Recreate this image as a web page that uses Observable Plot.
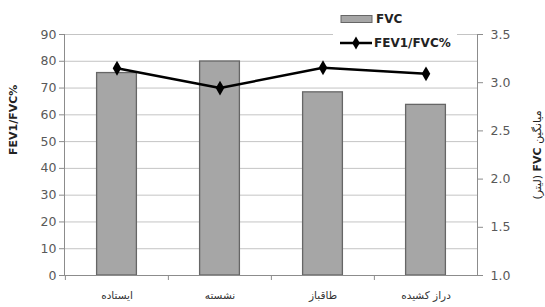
<!DOCTYPE html>
<html><head><meta charset="utf-8">
<script src="https://cdn.jsdelivr.net/npm/d3@7"></script>
<script src="https://cdn.jsdelivr.net/npm/@observablehq/plot@0.6"></script>
<style>
body{margin:0;background:#fff;}
#wrap{position:relative;width:545px;height:307px;font-family:"DejaVu Sans",sans-serif;}
#legend{position:absolute;left:333px;top:0;width:124px;height:54px;background:#fff;}
#rtitle{position:absolute;left:537px;top:155px;transform:translate(-50%,-50%) rotate(-90deg);white-space:nowrap;font-size:11px;color:#222;}
</style>
</head><body>
<div id="wrap"><div id="chart"></div><div id="legend"></div><div id="rtitle"></div></div>
<script>
const categories = ["ایستاده", "نشسته", "طاقباز", "دراز کشیده"];
const fvc = [3.10, 3.22, 2.90, 2.77];          // right axis, litres
const ratio = [77.4, 70.0, 77.6, 75.3];       // left axis, %
const leftTicks = [0,10,20,30,40,50,60,70,80,90];
const rightTicks = [1.0,1.5,2.0,2.5,3.0,3.5];
const leftTitle = "FEV1/FVC%";
const seriesNames = ["FVC", "FEV1/FVC%"];

const W = 545, H = 307, ml = 64, mr = 68, mt = 34, mb = 32;
const step = (W - ml - mr) / categories.length;
const toLeft = v => (v - 1) * 36; // right axis 1.0–3.5 onto left 0–90

const data = categories.map((c, i) => ({c, fvc: fvc[i], ratio: ratio[i]}));
const grey = "#595959";

const plot = Plot.plot({
  width: W, height: H,
  marginLeft: ml, marginRight: mr, marginTop: mt, marginBottom: mb,
  style: {fontFamily: "DejaVu Sans, sans-serif", background: "#fff"},
  x: {type: "band", domain: categories, padding: 0},
  y: {domain: [0, 90]},
  marks: [
    Plot.ruleY(leftTicks.filter(d => d > 0), {stroke: "#c4c4c4", strokeWidth: 1}),
    Plot.rectY(data, {x: "c", y1: 0, y2: d => toLeft(d.fvc), fill: "#a6a6a6", stroke: "#666", strokeWidth: 1.3, insetLeft: 31.6, insetRight: 31.6}),
    Plot.ruleY([0], {stroke: "#8c8c8c"}),
    Plot.frame({anchor: "left", stroke: "#8c8c8c"}),
    Plot.frame({anchor: "right", stroke: "#8c8c8c"}),
    Plot.ruleX(categories, {x: d => d, dx: -step / 2, y1: 0, y2: -5 / (241 / 90), stroke: "#8c8c8c"}),
    Plot.line(data, {x: "c", y: "ratio", stroke: "#000", strokeWidth: 2.5}),
    Plot.dot(data, {x: "c", y: "ratio", symbol: "diamond", r: 4.5, fill: "#000", stroke: "none"}),
    Plot.axisY({anchor: "left", ticks: leftTicks, tickSize: 5, tickPadding: 3, fontSize: 12.5, color: grey, stroke: "#8c8c8c", label: null}),
    Plot.axisY({anchor: "right", ticks: rightTicks.map(toLeft), tickFormat: y => (y / 36 + 1).toFixed(1), tickSize: 5, tickPadding: 8, fontSize: 12.5, color: grey, stroke: "#8c8c8c", label: null}),
    Plot.axisX({anchor: "bottom", tickSize: 0, tickPadding: 16, fontSize: 10.5, color: "#333", label: null}),
    Plot.text([leftTitle], {text: d => d, frameAnchor: "left", dx: -51, rotate: -90, fontWeight: "bold", fontSize: 11, fill: "#222"})
  ]
});
document.getElementById("chart").appendChild(plot);

// legend
const lg = d3.select("#legend").append("svg").attr("width", 124).attr("height", 54)
  .style("font-family", "DejaVu Sans, sans-serif");
lg.append("rect").attr("x", 8).attr("y", 15.5).attr("width", 31).attr("height", 7)
  .attr("fill", "#a6a6a6").attr("stroke", "#666");
lg.append("text").attr("x", 43).attr("y", 19).attr("dy", "0.35em").attr("font-size", 12)
  .attr("font-weight", "bold").attr("fill", "#222").text(seriesNames[0]);
lg.append("line").attr("x1", 7).attr("x2", 39).attr("y1", 43).attr("y2", 43)
  .attr("stroke", "#000").attr("stroke-width", 2.5);
lg.append("path").attr("d", d3.symbol(d3.symbolDiamond, 50)()).attr("transform", "translate(23,43)").attr("fill", "#000");
lg.append("text").attr("x", 41).attr("y", 43).attr("dy", "0.35em").attr("font-size", 12)
  .attr("font-weight", "bold").attr("fill", "#222").text(seriesNames[1]);

document.getElementById("rtitle").innerHTML =
  '<span dir="rtl">میانگین <b>FVC</b> (لیتر)</span>';
</script>
</body></html>
